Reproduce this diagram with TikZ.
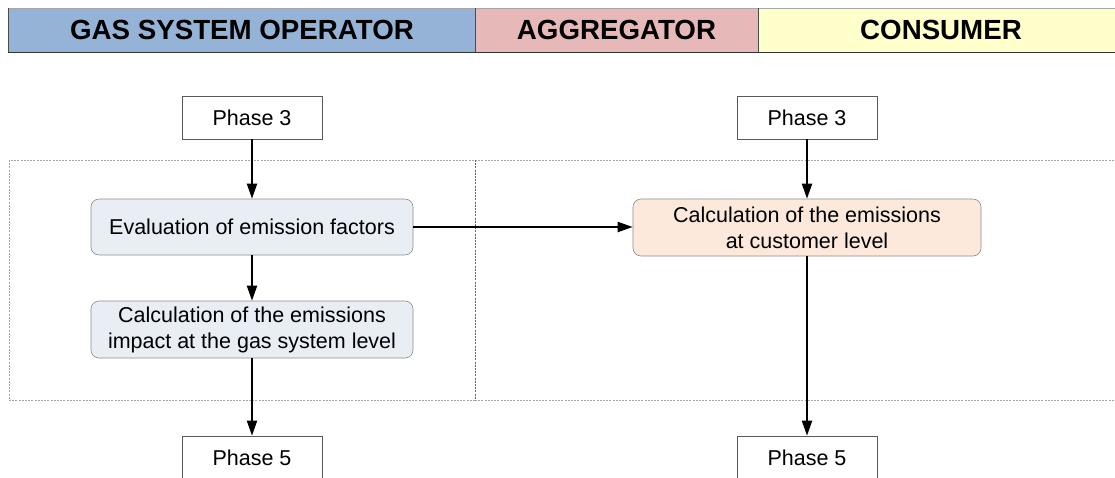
\documentclass[tikz,border=0pt]{standalone}
\usepackage{fontspec}
\setmainfont{Liberation Sans}
\usetikzlibrary{arrows.meta}
\definecolor{hdrblue}{HTML}{95B3D7}
\definecolor{hdrpink}{HTML}{E6B9B8}
\definecolor{hdryellow}{HTML}{FFFFCC}
\definecolor{boxblue}{HTML}{E9EEF5}
\definecolor{boxpeach}{HTML}{FCE9DB}
\definecolor{boxborder}{HTML}{8C8C8C}
\definecolor{dashgray}{HTML}{A6A6A6}
\tikzset{
  hdrtext/.style={font=\fontsize{27.7}{30}\selectfont\bfseries, text=black, inner sep=0pt},
  phasebox/.style={draw=black!65, line width=0.6pt, fill=white, minimum width=140pt, minimum height=43pt, inner sep=0pt, font=\fontsize{21.5}{26}\selectfont},
  procbox/.style={draw=boxborder, line width=0.6pt, rounded corners=8pt, minimum height=56pt, inner sep=0pt, align=center, font=\fontsize{21.5}{26}\selectfont},
  flow/.style={line width=2pt, -{Triangle[length=15pt,width=10pt]}},
  lane/.style={dashgray, line width=0.5pt, dash pattern=on 2pt off 1.2pt}
}
\begin{document}
\begin{tikzpicture}[x=1pt,y=-1pt]
\useasboundingbox (0,0) rectangle (1115,478);
\clip (0,0) rectangle (1115,478);
% header
\fill[hdrblue] (8,8) rectangle (475,52);
\fill[hdrpink] (475,8) rectangle (758,52);
\fill[hdryellow] (758,8) rectangle (1120,52);
\draw[black!35, line width=0.6pt] (8,8) -- (1120,8);
\draw[black!80, line width=0.8pt] (8,52) -- (1120,52);
\draw[black!70, line width=0.6pt] (8,8) -- (8,52) (475,8) -- (475,52) (758,8) -- (758,52);
\node[hdrtext] (hgso) at (242,30) {GAS SYSTEM OPERATOR};
\node[hdrtext] (hagg) at (616.5,30) {AGGREGATOR};
\node[hdrtext] (hcon) at (941,30) {CONSUMER};
% lanes
\draw[lane] (9,160) rectangle (475,400);
\draw[lane] (475,160) -- (1120,160) (475,400) -- (1120,400);
\draw[black!60, line width=0.5pt, dash pattern=on 2pt off 1.2pt] (475,160) -- (475,400);
% nodes
\node[phasebox] (p3l) at (252,117.5) {Phase 3};
\node[procbox, fill=boxblue, minimum width=322pt] (eval) at (252,227) {Evaluation of emission factors};
\node[procbox, fill=boxblue, minimum width=322pt, minimum height=57pt] (calc) at (252,329.5) {Calculation of the emissions\\impact at the gas system level};
\node[phasebox, minimum height=44pt] (p5l) at (252,458) {Phase 5};
\node[phasebox] (p3r) at (807,117.5) {Phase 3};
\node[procbox, fill=boxpeach, minimum width=348pt, minimum height=57pt] (cust) at (807,227.5) {Calculation of the emissions\\at customer level};
\node[phasebox, minimum height=44pt] (p5r) at (807,458) {Phase 5};
% connectors
\draw[flow] (p3l) -- (eval);
\draw[flow] (eval) -- (calc);
\draw[flow] (calc) -- (p5l);
\draw[flow] (p3r) -- (cust);
\draw[flow] (cust) -- (p5r);
\draw[flow] (eval.east) -- (eval.east -| cust.west);
\end{tikzpicture}
\end{document}
